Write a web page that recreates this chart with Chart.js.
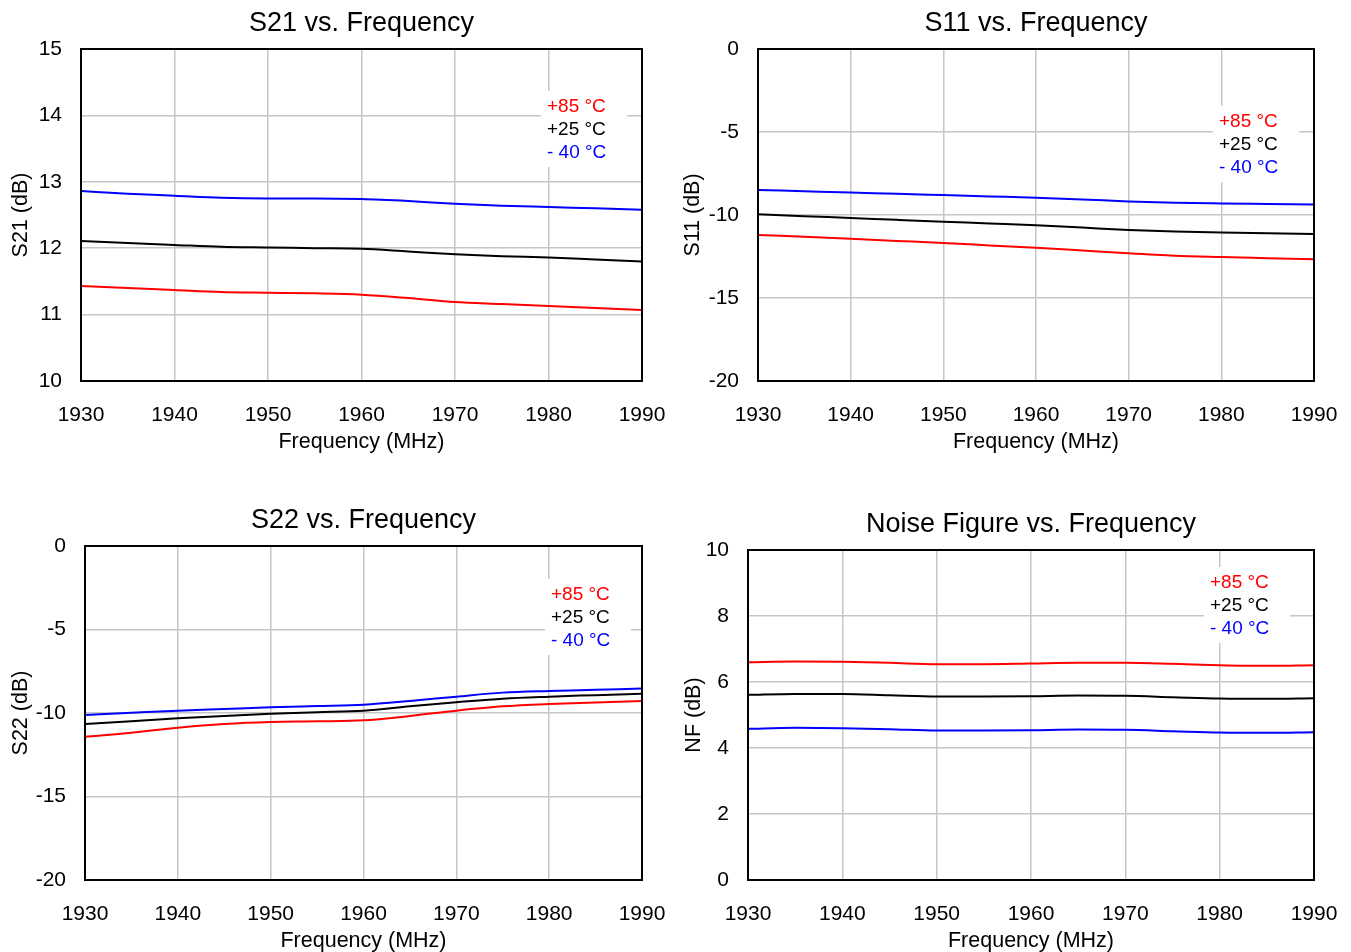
<!DOCTYPE html>
<html>
<head>
<meta charset="utf-8">
<title>Amplifier performance vs. frequency</title>
<script src="https://cdn.jsdelivr.net/npm/chart.js@4.4.1/dist/chart.umd.min.js"></script>
<style>
  html, body { margin: 0; padding: 0; background: #fff; overflow: hidden; width: 1351px; height: 952px; }
  canvas { position: absolute; }
</style>
</head>
<body>
<canvas id="s21"></canvas>
<canvas id="s11"></canvas>
<canvas id="s22"></canvas>
<canvas id="nf"></canvas>
<script>
// frequency points (MHz), read every 5 MHz off the curves
var freq = [1930, 1935, 1940, 1945, 1950, 1955, 1960, 1965, 1970, 1975, 1980, 1985, 1990];
var freqTicks = [1930, 1940, 1950, 1960, 1970, 1980, 1990];

var tempLabels = ['+85 °C', '+25 °C', '- 40 °C'];
var tempColors = ['#ff0000', '#000000', '#0000ff'];

// S21 (dB)
var s21Ticks = [10, 11, 12, 13, 14, 15];
var s21Hot  = [11.43, 11.40, 11.37, 11.34, 11.33, 11.32, 11.30, 11.25, 11.19, 11.16, 11.13, 11.10, 11.07];
var s21Room = [12.11, 12.08, 12.05, 12.02, 12.01, 12.00, 11.99, 11.95, 11.91, 11.88, 11.86, 11.83, 11.80];
var s21Cold = [12.86, 12.82, 12.79, 12.76, 12.75, 12.75, 12.74, 12.71, 12.67, 12.64, 12.62, 12.60, 12.58];

// S11 (dB)
var s11Ticks = [-20, -15, -10, -5, 0];
var s11Hot  = [-11.20, -11.31, -11.43, -11.56, -11.69, -11.83, -11.97, -12.14, -12.31, -12.45, -12.53, -12.60, -12.67];
var s11Room = [-9.96, -10.07, -10.18, -10.29, -10.40, -10.51, -10.62, -10.76, -10.90, -11.00, -11.06, -11.10, -11.14];
var s11Cold = [-8.49, -8.57, -8.65, -8.72, -8.80, -8.88, -8.96, -9.06, -9.18, -9.26, -9.30, -9.33, -9.36];

// S22 (dB)
var s22Ticks = [-20, -15, -10, -5, 0];
var s22Hot  = [-11.42, -11.18, -10.88, -10.66, -10.54, -10.50, -10.44, -10.18, -9.86, -9.60, -9.46, -9.37, -9.28];
var s22Room = [-10.66, -10.49, -10.32, -10.18, -10.04, -9.95, -9.86, -9.60, -9.36, -9.14, -9.02, -8.93, -8.84];
var s22Cold = [-10.12, -9.99, -9.86, -9.76, -9.66, -9.58, -9.50, -9.28, -9.02, -8.78, -8.68, -8.61, -8.54];

// Noise figure (dB)
var nfTicks = [0, 2, 4, 6, 8, 10];
var nfHot  = [6.60, 6.62, 6.61, 6.58, 6.54, 6.54, 6.56, 6.58, 6.58, 6.55, 6.51, 6.49, 6.51];
var nfRoom = [5.61, 5.64, 5.64, 5.60, 5.56, 5.56, 5.57, 5.59, 5.58, 5.54, 5.50, 5.49, 5.51];
var nfCold = [4.58, 4.61, 4.60, 4.57, 4.53, 4.53, 4.54, 4.56, 4.55, 4.51, 4.47, 4.46, 4.48];

var FONT = "'Liberation Sans', Arial, sans-serif";

// title above plot, white-backed text legend, black frame
var framePlugin = {
  id: 'frame',
  beforeDatasetsDraw: function(chart, args, opts) {
    var ctx = chart.ctx, a = chart.chartArea;
    var x = a.right - opts.legendDx, y = a.top + opts.legendDy;
    ctx.save();
    ctx.fillStyle = '#ffffff';
    ctx.fillRect(x - 6, y - 16, 86, 76);
    ctx.font = '19px ' + FONT;
    ctx.textAlign = 'left';
    ctx.textBaseline = 'middle';
    chart.data.datasets.forEach(function(ds, i) {
      ctx.fillStyle = ds.borderColor;
      ctx.fillText(ds.label, x, y + i * 23);
    });
    ctx.restore();
  },
  afterDraw: function(chart, args, opts) {
    var ctx = chart.ctx, a = chart.chartArea;
    ctx.save();
    ctx.strokeStyle = '#000000';
    ctx.lineWidth = 2;
    ctx.strokeRect(a.left, a.top, a.right - a.left, a.bottom - a.top);
    ctx.fillStyle = '#000000';
    ctx.font = '27px ' + FONT;
    ctx.textAlign = 'center';
    ctx.textBaseline = 'middle';
    ctx.fillText(opts.title, (a.left + a.right) / 2, a.top - 25);
    ctx.restore();
  }
};

function makeChart(id, title, yTitle, yTicks, series, box, area, legendDx, legendDy) {
  var canvas = document.getElementById(id);
  var h = area.b + 89 - box.top;
  canvas.width = box.w;
  canvas.height = h;
  canvas.style.left = box.left + 'px';
  canvas.style.top = box.top + 'px';

  var yWidth = area.l - box.left;
  var xHeight = 89;

  var datasets = series.map(function(vals, i) {
    return {
      label: tempLabels[i],
      data: vals.map(function(v, j) { return {x: freq[j], y: v}; }),
      borderColor: tempColors[i],
      backgroundColor: tempColors[i],
      borderWidth: 2,
      pointRadius: 0,
      cubicInterpolationMode: 'monotone',
      fill: false
    };
  });

  return new Chart(canvas.getContext('2d'), {
    type: 'line',
    data: { datasets: datasets },
    plugins: [framePlugin],
    options: {
      responsive: false,
      animation: false,
      layout: { padding: { left: 0, top: area.t - box.top, right: box.left + box.w - area.r, bottom: 0 } },
      plugins: {
        legend: { display: false },
        tooltip: { enabled: false },
        frame: { title: title, legendDx: legendDx, legendDy: legendDy }
      },
      scales: {
        x: {
          type: 'linear',
          min: freqTicks[0],
          max: freqTicks[freqTicks.length - 1],
          afterBuildTicks: function(scale) {
            scale.ticks = freqTicks.map(function(v) { return {value: v}; });
          },
          afterFit: function(scale) {
            scale.height = xHeight;
            scale.paddingLeft = 0;
            scale.paddingRight = 0;
          },
          grid: { color: '#c6c6c6', lineWidth: 1.5, drawTicks: false },
          border: { display: false },
          ticks: { color: '#000', font: { family: FONT, size: 21 }, padding: 22, maxRotation: 0,
                   callback: function(v) { return String(v); } },
          title: { display: true, text: 'Frequency (MHz)', color: '#000',
                   font: { family: FONT, size: 21.5 }, padding: { top: 0, bottom: 15 } }
        },
        y: {
          min: yTicks[0],
          max: yTicks[yTicks.length - 1],
          afterBuildTicks: function(scale) {
            scale.ticks = yTicks.map(function(v) { return {value: v}; });
          },
          afterFit: function(scale) {
            scale.width = yWidth;
            scale.paddingTop = 0;
            scale.paddingBottom = 0;
          },
          grid: { color: '#c6c6c6', lineWidth: 1.5, drawTicks: false },
          border: { display: false },
          ticks: { color: '#000', font: { family: FONT, size: 21 }, padding: 19,
                   callback: function(v) { return String(v); } },
          title: { display: true, text: yTitle, color: '#000',
                   font: { family: FONT, size: 21.5 }, padding: { top: 8, bottom: 0 } }
        }
      }
    }
  });
}

makeChart('s21', 'S21 vs. Frequency', 'S21 (dB)', s21Ticks, [s21Hot, s21Room, s21Cold],
  {left: 0, top: 0, w: 670}, {l: 81, r: 642, t: 49, b: 381}, 95, 58);
makeChart('s11', 'S11 vs. Frequency', 'S11 (dB)', s11Ticks, [s11Hot, s11Room, s11Cold],
  {left: 672, top: 0, w: 674}, {l: 758, r: 1314, t: 49, b: 381}, 95, 73);
makeChart('s22', 'S22 vs. Frequency', 'S22 (dB)', s22Ticks, [s22Hot, s22Room, s22Cold],
  {left: 0, top: 490, w: 670}, {l: 85, r: 642, t: 546, b: 880}, 91, 49);
makeChart('nf', 'Noise Figure vs. Frequency', 'NF (dB)', nfTicks, [nfHot, nfRoom, nfCold],
  {left: 673, top: 490, w: 673}, {l: 748, r: 1314, t: 550, b: 880}, 104, 33);
</script>
</body>
</html>
